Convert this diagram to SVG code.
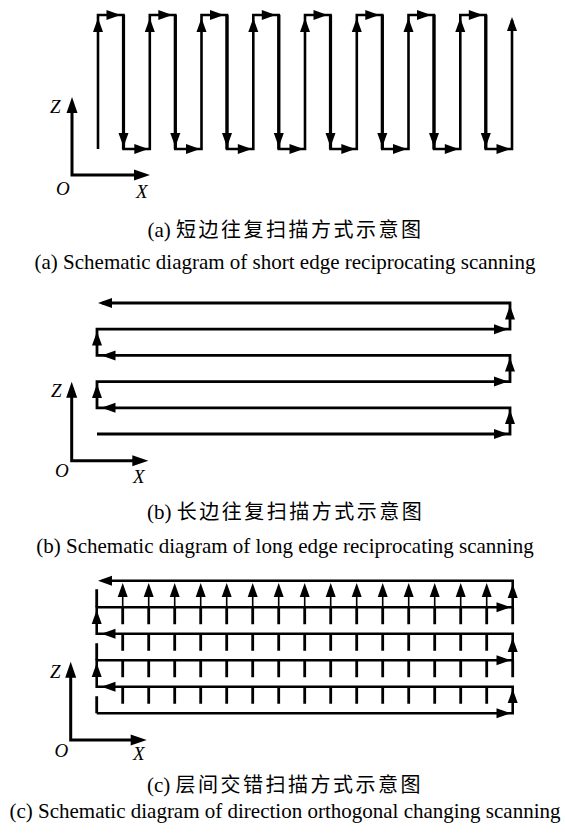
<svg xmlns="http://www.w3.org/2000/svg" xmlns:xlink="http://www.w3.org/1999/xlink" width="565" height="837" viewBox="0 0 565 837">
<style>
.trk{fill:none;stroke:#000;stroke-width:2.6;stroke-linejoin:miter}
.thk{fill:none;stroke:#000;stroke-width:3.2}
.thin{fill:none;stroke:#000;stroke-width:1.6}
.tick{fill:none;stroke:#000;stroke-width:2.8}
.ax{fill:none;stroke:#000;stroke-width:3}
.lbl{font-family:"Liberation Serif","Times New Roman",serif;font-style:italic;font-size:19px;fill:#000}
.cap{font-family:"Liberation Serif","Times New Roman",serif;font-size:21px;fill:#000}
.cjk{font-family:"Noto Sans CJK SC","Noto Sans CJK TC",sans-serif;font-size:20px;letter-spacing:2.5px}
</style>
<defs>
<path id="au" d="M0,0 L-5,14 L5,14 Z" fill="#000"/>
<path id="ad" d="M0,0 L-5,-14 L5,-14 Z" fill="#000"/>
<path id="ar" d="M0,0 L-14,-5 L-14,5 Z" fill="#000"/>
<path id="al" d="M0,0 L14,-5 L14,5 Z" fill="#000"/>
<path id="axu" d="M0,0 L-5.5,16 L5.5,16 Z" fill="#000"/>
<path id="axr" d="M0,0 L-16,-5.5 L-16,5.5 Z" fill="#000"/>
</defs>
<rect width="565" height="837" fill="#fff"/>

<!-- (a) short edge reciprocating -->
<g id="panel-a">
<g id="a-connectors">
<path class="trk" d="M98,149 V15 H123.5 V149 H149.8 V15 H175.3 V149 H201.5 V15 H227 V149 H253.3 V15 H278.8 V149 H305 V15 H330.5 V149 H356.8 V15 H382.3 V149 H408.5 V15 H434 V149 H460.3 V15 H485.8 V149 H512 V20"/>
<path class="thk" d="M123.5,15V149M175.3,15V149M227,15V149M278.8,15V149M330.5,15V149M382.3,15V149M434,15V149M485.8,15V149"/>
<use href="#au" x="98" y="18"/><use href="#au" x="149.8" y="18"/><use href="#au" x="201.5" y="18"/><use href="#au" x="253.3" y="18"/><use href="#au" x="305" y="18"/><use href="#au" x="356.8" y="18"/><use href="#au" x="408.5" y="18"/><use href="#au" x="460.3" y="18"/><use href="#au" x="512" y="17"/>
<use href="#ar" x="120.5" y="15"/><use href="#ar" x="172.3" y="15"/><use href="#ar" x="224" y="15"/><use href="#ar" x="275.8" y="15"/><use href="#ar" x="327.5" y="15"/><use href="#ar" x="379.3" y="15"/><use href="#ar" x="431" y="15"/><use href="#ar" x="482.8" y="15"/>
<use href="#ad" x="123.5" y="147"/><use href="#ad" x="175.3" y="147"/><use href="#ad" x="227" y="147"/><use href="#ad" x="278.8" y="147"/><use href="#ad" x="330.5" y="147"/><use href="#ad" x="382.3" y="147"/><use href="#ad" x="434" y="147"/><use href="#ad" x="485.8" y="147"/>
<use href="#ar" x="148.3" y="149"/><use href="#ar" x="200" y="149"/><use href="#ar" x="251.8" y="149"/><use href="#ar" x="303.5" y="149"/><use href="#ar" x="355.3" y="149"/><use href="#ar" x="407" y="149"/><use href="#ar" x="458.8" y="149"/><use href="#ar" x="510.5" y="149"/>
</g>
<g id="a-axes">
<path class="ax" d="M72,108 V175 H138"/>
<use href="#axu" x="72" y="97"/><use href="#axr" x="150" y="175"/>
<text class="lbl" x="50" y="113">Z</text>
<text class="lbl" x="56" y="195">O</text>
<text class="lbl" x="136" y="198">X</text>
</g>
<g id="a-caption">
<text class="cap" x="147.5" y="237">(a) <tspan class="cjk">短边往复扫描方式示意图</tspan></text>
<text class="cap" x="285" y="269" text-anchor="middle">(a) Schematic diagram of short edge reciprocating scanning</text>
</g>
</g>

<!-- (b) long edge reciprocating -->
<g id="panel-b">
<g id="b-connectors">
<path class="trk" d="M97,434 H510 V407.8 H97 V381.6 H510 V355.4 H97 V329.2 H510 V303 H102" style="stroke-width:2.8"/>
<use href="#ar" x="508" y="434"/><use href="#au" x="510" y="410"/>
<use href="#al" x="101.5" y="407.8"/><use href="#au" x="97" y="384"/>
<use href="#ar" x="508" y="381.6"/><use href="#au" x="510" y="357.5"/>
<use href="#al" x="101.5" y="355.4"/><use href="#au" x="97" y="331.5"/>
<use href="#ar" x="508" y="329.2"/><use href="#au" x="510" y="305.5"/>
<use href="#al" x="98" y="303"/>
</g>
<g id="b-axes">
<path class="ax" d="M71.7,393 V460.7 H136"/>
<use href="#axu" x="71.7" y="381.7"/><use href="#axr" x="148.3" y="460.7"/>
<text class="lbl" x="51" y="397">Z</text>
<text class="lbl" x="55" y="477">O</text>
<text class="lbl" x="133" y="483">X</text>
</g>
<g id="b-caption">
<text class="cap" x="147" y="519">(b) <tspan class="cjk">长边往复扫描方式示意图</tspan></text>
<text class="cap" x="285" y="553" text-anchor="middle">(b) Schematic diagram of long edge reciprocating scanning</text>
</g>
</g>

<!-- (c) interlayer staggered -->
<g id="panel-c">
<g id="c-connectors">
<path class="trk" d="M96.7,713.2 H512.7 V686.7 H96.7 V660.2 H512.7 V633.7 H96.7 V607.2 H512.7 V580.7 H102"/>
<path class="tick" d="M512.7,607.2v17M512.7,660.2v17M96.7,589.2V607.2M96.7,643.2V660.2M96.7,696.2V713.2"/>
<use href="#ar" x="510.5" y="713.2"/><use href="#au" x="512.7" y="689"/>
<use href="#al" x="101.5" y="686.7"/><use href="#au" x="96.7" y="663"/>
<use href="#ar" x="510.5" y="660.2"/><use href="#au" x="512.7" y="638"/>
<use href="#al" x="101.5" y="633.7"/><use href="#au" x="96.7" y="610"/>
<use href="#ar" x="510.5" y="607.2"/><use href="#au" x="512.7" y="584"/>
<use href="#al" x="98" y="580.7"/>
</g>
<g id="c-columns">
<path class="thin" d="M122.7,607.2V590M148.7,607.2V590M174.7,607.2V590M200.7,607.2V590M226.7,607.2V590M252.7,607.2V590M278.7,607.2V590M304.7,607.2V590M330.7,607.2V590M356.7,607.2V590M382.7,607.2V590M408.7,607.2V590M434.7,607.2V590M460.7,607.2V590M486.7,607.2V590"/>
<path class="tick" d="M122.7,607.2v17M122.7,633.7v17M122.7,660.2v17M122.7,686.7v17M148.7,607.2v17M148.7,633.7v17M148.7,660.2v17M148.7,686.7v17M174.7,607.2v17M174.7,633.7v17M174.7,660.2v17M174.7,686.7v17M200.7,607.2v17M200.7,633.7v17M200.7,660.2v17M200.7,686.7v17M226.7,607.2v17M226.7,633.7v17M226.7,660.2v17M226.7,686.7v17M252.7,607.2v17M252.7,633.7v17M252.7,660.2v17M252.7,686.7v17M278.7,607.2v17M278.7,633.7v17M278.7,660.2v17M278.7,686.7v17M304.7,607.2v17M304.7,633.7v17M304.7,660.2v17M304.7,686.7v17M330.7,607.2v17M330.7,633.7v17M330.7,660.2v17M330.7,686.7v17M356.7,607.2v17M356.7,633.7v17M356.7,660.2v17M356.7,686.7v17M382.7,607.2v17M382.7,633.7v17M382.7,660.2v17M382.7,686.7v17M408.7,607.2v17M408.7,633.7v17M408.7,660.2v17M408.7,686.7v17M434.7,607.2v17M434.7,633.7v17M434.7,660.2v17M434.7,686.7v17M460.7,607.2v17M460.7,633.7v17M460.7,660.2v17M460.7,686.7v17M486.7,607.2v17M486.7,633.7v17M486.7,660.2v17M486.7,686.7v17"/>
<use href="#au" x="122.7" y="583"/><use href="#au" x="148.7" y="583"/><use href="#au" x="174.7" y="583"/><use href="#au" x="200.7" y="583"/><use href="#au" x="226.7" y="583"/><use href="#au" x="252.7" y="583"/><use href="#au" x="278.7" y="583"/><use href="#au" x="304.7" y="583"/><use href="#au" x="330.7" y="583"/><use href="#au" x="356.7" y="583"/><use href="#au" x="382.7" y="583"/><use href="#au" x="408.7" y="583"/><use href="#au" x="434.7" y="583"/><use href="#au" x="460.7" y="583"/><use href="#au" x="486.7" y="583"/>
</g>
<g id="c-axes">
<path class="ax" d="M70.7,673 V740 H135"/>
<use href="#axu" x="70.7" y="661.7"/><use href="#axr" x="146.7" y="740"/>
<text class="lbl" x="50" y="678">Z</text>
<text class="lbl" x="54.5" y="756.5">O</text>
<text class="lbl" x="133" y="760">X</text>
</g>
<g id="c-caption">
<text class="cap" x="147" y="792">(c) <tspan class="cjk">层间交错扫描方式示意图</tspan></text>
<text class="cap" x="285" y="818" text-anchor="middle">(c) Schematic diagram of direction orthogonal changing scanning</text>
</g>
</g>
</svg>
